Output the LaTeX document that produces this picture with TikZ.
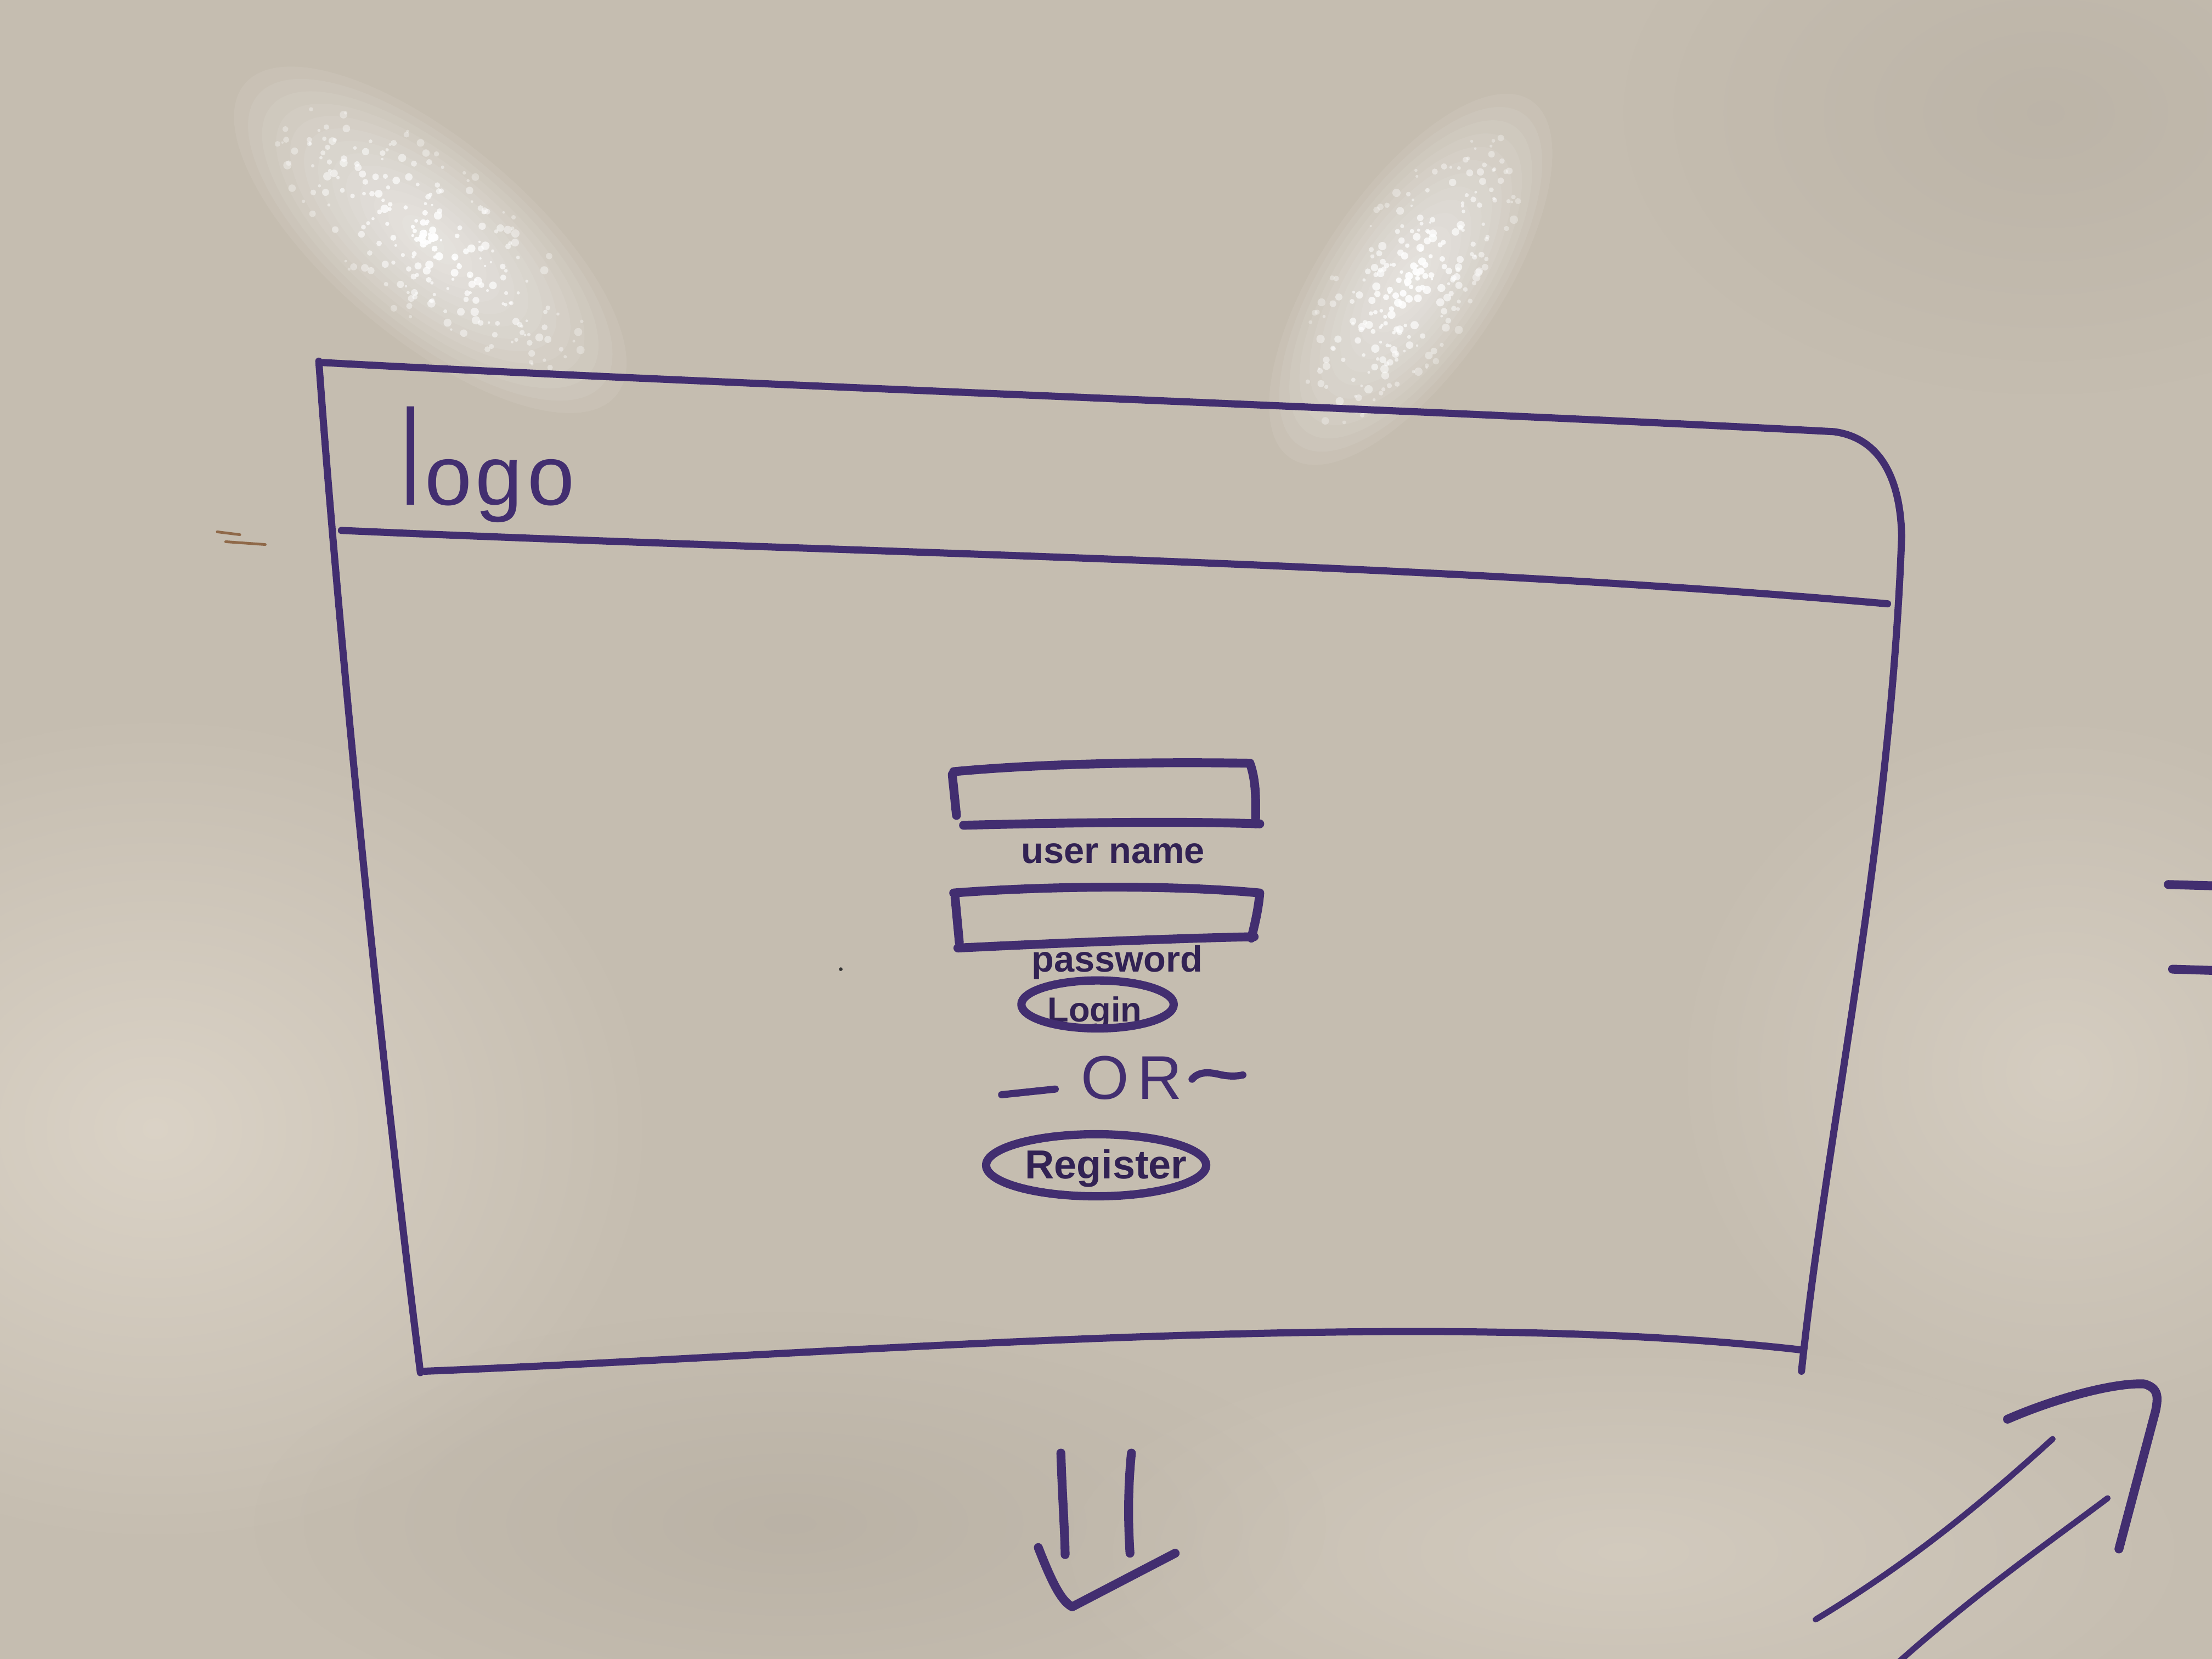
\documentclass[tikz,border=0pt]{standalone}
\usepackage{fontspec}
\setmainfont{Liberation Sans}
\usepackage{graphicx}
\usetikzlibrary{fadings}

\definecolor{board}{RGB}{197,189,176}
\definecolor{boardlight}{RGB}{224,216,204}
\definecolor{boarddark}{RGB}{176,168,156}
\definecolor{ink}{RGB}{66,46,112}
\definecolor{inkdark}{RGB}{50,34,84}
\definecolor{stain}{RGB}{130,84,48}

\tikzfading[name=softglow, inner color=transparent!0, outer color=transparent!100]

% sparkling reflection: stacked soft layers plus scattered bright specks
\newcommand{\sheen}[5]{% centre x, centre y, angle, long radius, short radius
  \begin{scope}[shift={(#1,#2)}, rotate=#3]
    \foreach \n in {1,...,14}{
      \fill[white, opacity=0.07] (0,0) ellipse [x radius={\n/11*#4}, y radius={\n/11*#5}];
    }
    \foreach \k in {1,...,260}{
      \pgfmathsetmacro{\rr}{rnd^0.7}
      \pgfmathsetmacro{\aa}{360*rnd}
      \pgfmathsetmacro{\px}{#4*\rr*cos(\aa)}
      \pgfmathsetmacro{\py}{#5*\rr*sin(\aa)}
      \pgfmathsetmacro{\ss}{0.8+2.2*rnd}
      \pgfmathsetmacro{\oo}{0.3+0.65*(1-\rr)}
      \fill[white, opacity=\oo] (\px,\py) circle [radius=\ss];
    }
  \end{scope}}

\begin{document}
\begin{tikzpicture}[x=0.025714cm, y=-0.025714cm,
  marker/.style={draw=ink, line width=3.7pt, line cap=round, line join=round},
  heavy/.style={marker, line width=4.6pt},
  fine/.style={marker, line width=3.1pt},
  scrawl/.style={text=inkdark, font=\bfseries\fontsize{19}{19}\selectfont, inner sep=0pt},
  haze/.style={path fading=softglow}]

\useasboundingbox (0,0) rectangle (1568,1176);

% whiteboard surface with uneven lighting
\fill[board] (0,0) rectangle (1568,1176);
\fill[boardlight, haze, opacity=0.8] (110,800) ellipse [x radius=360, y radius=300];
\fill[boardlight, haze, opacity=0.6] (1460,760) ellipse [x radius=280, y radius=260];
\fill[boardlight, haze, opacity=0.5] (1150,1100) ellipse [x radius=420, y radius=160];
\fill[boarddark, haze, opacity=0.5] (560,1080) ellipse [x radius=380, y radius=150];
\fill[boarddark, haze, opacity=0.4] (1450,80) ellipse [x radius=300, y radius=200];

% reflections of the ceiling lights
\pgfmathsetseed{11}
\sheen{305}{170}{-40}{135}{55}
\sheen{1000}{198}{56}{120}{50}

% small marks on the board
\draw[stain, line width=1.4pt, line cap=round, opacity=0.8] (154,377) -- (170,379) (160,384) -- (188,386);
\fill[black!80] (596,687) circle [radius=1.3];

% page frame: top edge running round the corner into the right edge
\draw[marker] (229,257) .. controls (500,272) and (1000,290) .. (1300,306)
              .. controls (1330,310) and (1347,335) .. (1348,380)
              .. controls (1340,600) and (1295,800) .. (1277,972);
% left edge
\draw[marker] (226,256) .. controls (240,450) and (270,750) .. (298,973);
% header divider
\draw[marker] (242,376) .. controls (600,392) and (1000,398) .. (1338,428);
% bottom edge
\draw[marker] (301,972) .. controls (600,960) and (1000,925) .. (1278,957);

% logo in the header
\node[text=ink, font=\fontsize{44}{44}\selectfont, inner sep=0pt, anchor=base west] (logo)
  at (284,358) {\scalebox{1}[1.6]{l}\hspace{0.06em}o\hspace{0.04em}g\hspace{0.06em}o};

% user name field
\draw[heavy] (676,547) .. controls (740,541) and (820,540) .. (886,541)
             .. controls (891,555) and (890,570) .. (890,584);
\draw[heavy] (683,585) .. controls (760,583) and (840,582) .. (893,584);
\draw[heavy] (675,549) -- (678,578);
\node[scrawl] (username) at (789,605) {user name};

% password field
\draw[heavy] (676,633) .. controls (740,628) and (830,627) .. (893,633)
             .. controls (892,645) and (889,657) .. (887,665);
\draw[heavy] (679,672) .. controls (760,668) and (840,665) .. (889,664);
\draw[heavy] (677,636) -- (680,668);
\node[scrawl, anchor=base] (password) at (792,689) {password};

% login button
\node[scrawl, font=\bfseries\fontsize{18}{18}\selectfont] (login) at (776,718) {Login};
\draw[marker, line width=4.3pt] (login.center) ++(2,-6) ellipse [x radius=54, y radius=17];

% separator
\node[text=ink, font=\fontsize{32}{32}\selectfont, inner sep=0pt] (or) at (802,764) {O\hspace{0.14em}R};
\draw[marker] (710,776) -- (748,772);
\draw[marker] (845,765) .. controls (850,759) and (858,760) .. (866,762)
              .. controls (872,763) and (876,763) .. (881,762);

% register button
\node[scrawl, font=\bfseries\fontsize{21}{21}\selectfont] (register) at (784,828) {Register};
\draw[marker, line width=4.3pt] (register.center) ++(-7,-2) ellipse [x radius=78, y radius=22];

% double arrow pointing down
\draw[heavy] (752,1030) .. controls (753,1060) and (755,1090) .. (755,1102);
\draw[heavy] (802,1030) .. controls (799,1060) and (800,1085) .. (801,1101);
\draw[heavy] (736,1097) .. controls (745,1120) and (752,1135) .. (760,1139) -- (833,1101);

% double arrow pointing up and right
\draw[fine] (1287,1148) .. controls (1350,1110) and (1400,1070) .. (1455,1020);
\draw[fine] (1346,1178) .. controls (1400,1130) and (1450,1095) .. (1494,1062);
\draw[heavy] (1423,1006) .. controls (1460,990) and (1500,980) .. (1520,981)
             .. controls (1530,984) and (1530,990) .. (1528,1000) -- (1502,1098);

% marks at the right border
\draw[heavy] (1537,627) -- (1572,628);
\draw[heavy] (1540,687) -- (1572,688);

\end{tikzpicture}
\end{document}
